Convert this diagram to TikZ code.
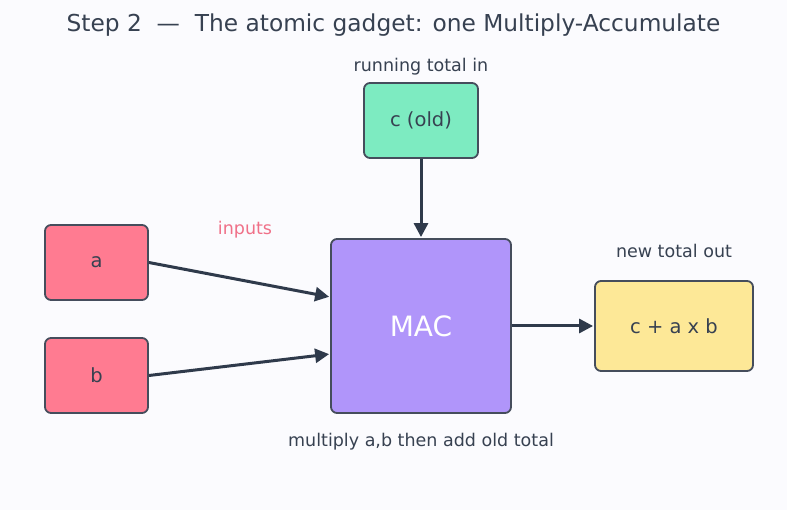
\documentclass[tikz,border=0pt]{standalone}
\usepackage{fontspec}
\setmainfont{DejaVu Sans}
\usetikzlibrary{arrows.meta}
\definecolor{bg}{HTML}{FBFBFE}
\definecolor{ink}{HTML}{374151}
\definecolor{edge}{HTML}{454D5C}
\definecolor{arrowc}{HTML}{2F3A4B}
\definecolor{greenf}{HTML}{7DEBC1}
\definecolor{purplef}{HTML}{B095FA}
\definecolor{redf}{HTML}{FF7B91}
\definecolor{yellowf}{HTML}{FDE897}
\definecolor{pinkt}{HTML}{F07088}
\tikzset{
  box/.style={draw=edge, line width=1.8pt, rounded corners=6pt, inner sep=0pt, font=\fontsize{19.5}{22}\selectfont, text=ink},
  lbl/.style={font=\fontsize{17.5}{20}\selectfont, text=ink, inner sep=0pt},
  conn/.style={draw=arrowc, line width=3pt, -{Triangle[length=14pt,width=14pt]}, shorten >=1pt}
}
\begin{document}
\begin{tikzpicture}[x=1pt,y=-1pt]
\fill[bg] (0,0) rectangle (787,510);
\useasboundingbox (0,0) rectangle (787,510);
\node[font=\fontsize{23.3}{26}\selectfont, text=ink] (title) at (393.5,25) {Step 2\ \ —\ \ The atomic gadget: one Multiply-Accumulate};
\node[box, fill=greenf, minimum width=114pt, minimum height=75pt] (c) at (421,120.5) {c (old)};
\node[box, fill=purplef, minimum width=180pt, minimum height=174pt, text=white, font=\fontsize{28}{32}\selectfont] (mac) at (421,326) {MAC};
\node[box, fill=redf, minimum width=103pt, minimum height=75pt] (a) at (96.5,262.5) {a};
\node[box, fill=redf, minimum width=103pt, minimum height=75pt] (b) at (96.5,375.5) {b};
\node[box, fill=yellowf, minimum width=158pt, minimum height=90pt] (out) at (674,326) {c + a x b};
\node[lbl] (lrun) at (421,67) {running total in};
\node[lbl, text=pinkt] (linp) at (245,230) {inputs};
\node[lbl] (lnew) at (674,251) {new total out};
\node[lbl] (lmul) at (421,441.5) {multiply a,b then add old total};
\draw[conn] (c.south) -- (mac.north);
\draw[conn] (a.east) -- ([yshift=29pt]mac.west);
\draw[conn] (b.east) -- ([yshift=-28pt]mac.west);
\draw[conn] (mac.east) -- (out.west);
\end{tikzpicture}
\end{document}
